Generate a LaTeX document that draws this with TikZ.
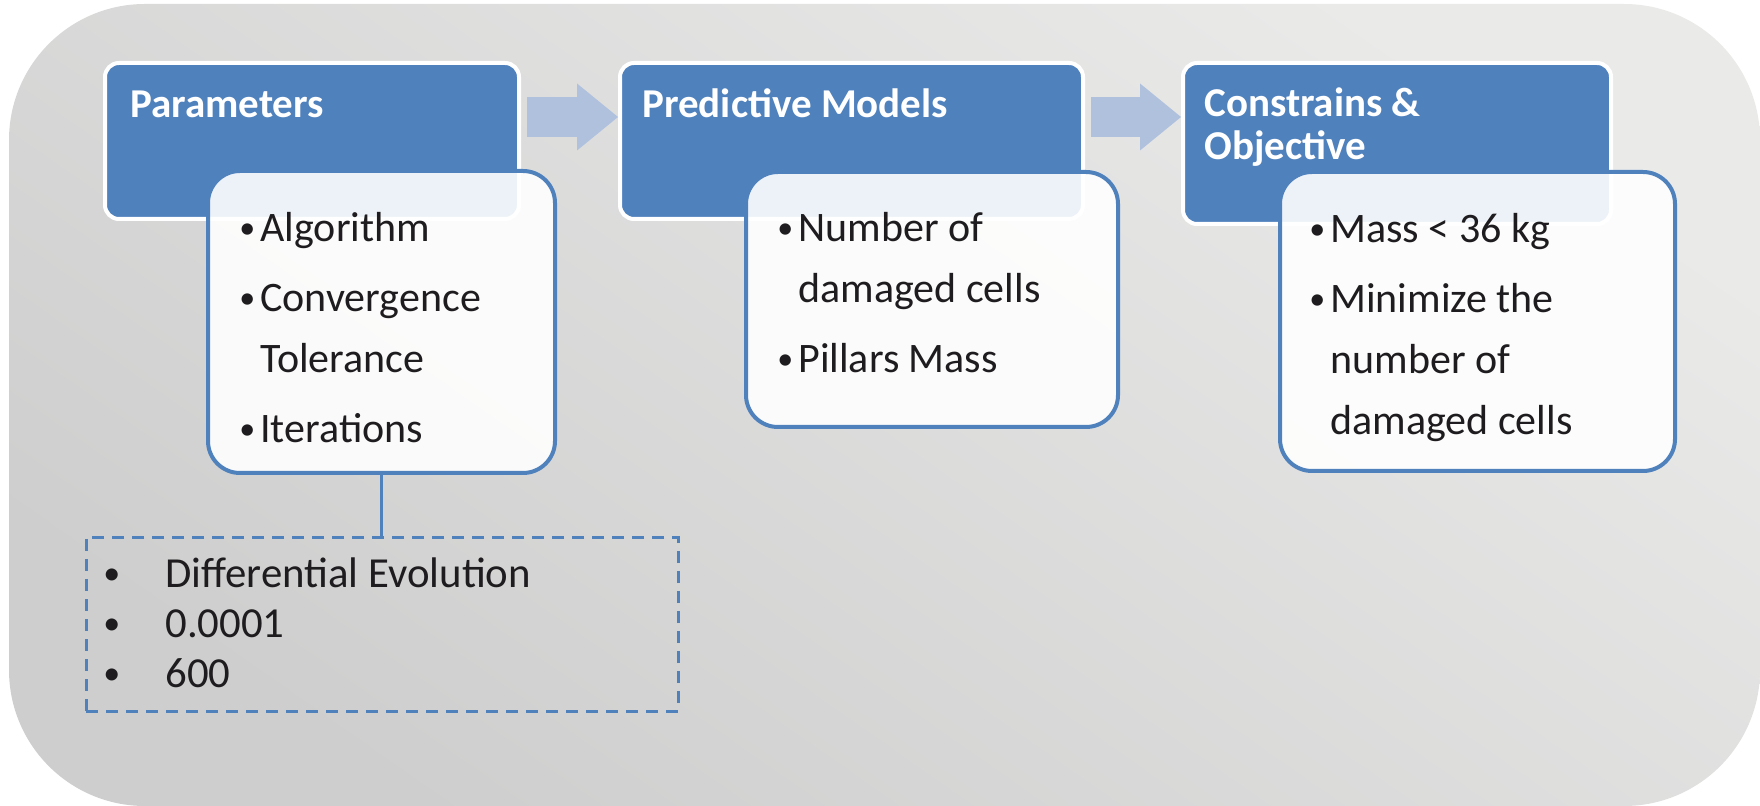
\documentclass[tikz,border=0pt]{standalone}
\usepackage{fontspec}
\setmainfont{Carlito}
\usetikzlibrary{arrows.meta, calc}
\definecolor{headblue}{RGB}{79,129,189}
\definecolor{arrowblue}{RGB}{176,193,221}
\definecolor{bgtop}{RGB}{234,234,233}
\definecolor{bgbot}{RGB}{206,206,206}
\definecolor{listtext}{RGB}{30,28,30}
\newcommand{\listdot}{\makebox[10.5pt][l]{\raisebox{1.6pt}{\fontsize{16}{16}\selectfont\textbullet}}}
\newcommand{\notedot}{\makebox[31pt][l]{\raisebox{1.2pt}{\fontsize{17}{17}\selectfont\textbullet}}}
\tikzset{
  head/.style = {draw=white, line width=2pt, fill=headblue, rounded corners=7pt, anchor=north west, inner sep=0pt, outer sep=0pt},
  card/.style = {draw=headblue, line width=2pt, fill=white, fill opacity=0.9, rounded corners=16pt, anchor=north west, inner sep=0pt, outer sep=0pt},
  title/.style = {anchor=base west, inner sep=0pt, text=white, font=\fontsize{20.5}{21.5}\selectfont\bfseries},
  list/.style = {anchor=base west, inner sep=0pt, text=listtext, font=\fontsize{21}{30.5}\selectfont},
  flow/.style = {arrowblue, line width=20pt, -{Triangle[length=20.5pt, width=33.5pt, line width=0pt]}},
  note/.style = {draw=headblue, line width=1.5pt, dash pattern=on 6pt off 4pt, anchor=north west, inner sep=0pt, outer sep=0pt},
  link/.style = {draw=headblue, line width=1.5pt}
}

\begin{document}
\begin{tikzpicture}[x=0.5pt, y=-0.5pt]
\useasboundingbox (0,0) rectangle (1760,806);
\shade[rounded corners=68pt, top color=bgtop, bottom color=bgbot, shading angle=-35] (9,4) rectangle (1760,806);

\node[head, minimum width=207pt, minimum height=78pt] (h1) at (105,63) {};
\node[head, minimum width=231.5pt, minimum height=78pt] (h2) at (620,63) {};
\node[head, minimum width=214pt, minimum height=80.5pt] (h3) at (1183,63) {};

\draw[flow] ($(h1.north east)+(8,54)$) -- ($(h2.north west)+(-2,54)$);
\draw[flow] ($(h2.north east)+(8,54)$) -- ($(h3.north west)+(-2,54)$);

\node[title] (t1) at (130,118) {Parameters};
\node[title] (t2) at (642,118) {Predictive Models};
\node[title] (t3) at (1204,117) {\begin{tabular}[t]{@{}l@{}}Constrains \&\\Objective\end{tabular}};

\node[card, minimum width=173.5pt, minimum height=151pt] (b1) at (208,171) {};
\node[card, minimum width=186pt, minimum height=127.5pt] (b2) at (746,172) {};
\node[card, minimum width=197.5pt, minimum height=149.5pt] (b3) at (1280,172) {};

\node[list] (l1) at (239,242) {\begin{tabular}[t]{@{}l@{}l@{}}
\listdot & Algorithm\\[4.5pt]
\listdot & Convergence\\
 & Tolerance\\[4.5pt]
\listdot & Iterations
\end{tabular}};
\node[list] (l2) at (777,242) {\begin{tabular}[t]{@{}l@{}l@{}}
\listdot & Number of\\
 & damaged cells\\[4.5pt]
\listdot & Pillars Mass
\end{tabular}};
\node[list] (l3) at (1309,243) {\begin{tabular}[t]{@{}l@{}l@{}}
\listdot & Mass < 36 kg\\[4.5pt]
\listdot & Minimize the\\
 & number of\\
 & damaged cells
\end{tabular}};

\node[note, minimum width=296pt, minimum height=87pt] (dl) at (86,537) {};
\draw[link] (b1.south) -- (b1.south |- dl.north);
\node[list, font=\fontsize{21.4}{25}\selectfont] (dt) at (103,587) {\begin{tabular}[t]{@{}l@{}l@{}}
\notedot & Differential Evolution\\
\notedot & 0.0001\\
\notedot & 600
\end{tabular}};
\end{tikzpicture}
\end{document}
